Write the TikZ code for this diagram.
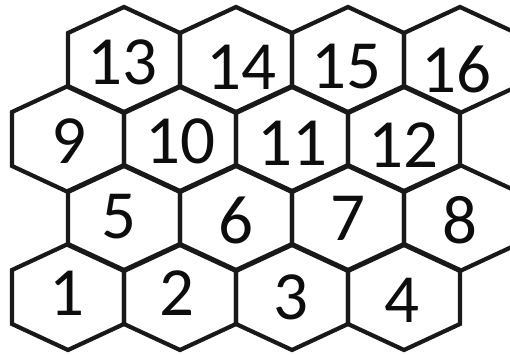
\documentclass[tikz,border=0pt]{standalone}
\usepackage{fontspec}
\setmainfont{Carlito}
\begin{document}
\begin{tikzpicture}[x=1pt,y=1pt,
  hexline/.style={draw=black!90,line width=4.2pt},
  numlabel/.style={inner sep=0pt,text=black!95,font=\fontsize{69}{69}\selectfont}]
\useasboundingbox (0,0) rectangle (510,355);
\clip (0,0) rectangle (510,355);
% hexagon centres (px, y down): rows at 60,139,218,297
\foreach \cx/\cy in {124/60,236/60,348/60,460/60,
                     68/139,180/139,292/139,404/139,
                     124/218,236/218,348/218,460/218,
                     68/297,180/297,292/297,404/297}{
  \draw[hexline] (\cx,355-\cy+53) -- (\cx+56,355-\cy+27) -- (\cx+56,355-\cy-27)
     -- (\cx,355-\cy-53) -- (\cx-56,355-\cy-27) -- (\cx-56,355-\cy+27) -- cycle;
}
\foreach \n/\x/\y in {13/122/62,14/241/67,15/346/67,16/456/69,
                      9/69/141,10/180/141,11/292/143,12/403/145,
                      5/119/217,6/236/220,7/348/218,8/460/220,
                      1/67/293,2/177/293,3/291/297,4/402/300}{
  \node[numlabel] (n\n) at (\x,355-\y) {\n};
}
\end{tikzpicture}
\end{document}
